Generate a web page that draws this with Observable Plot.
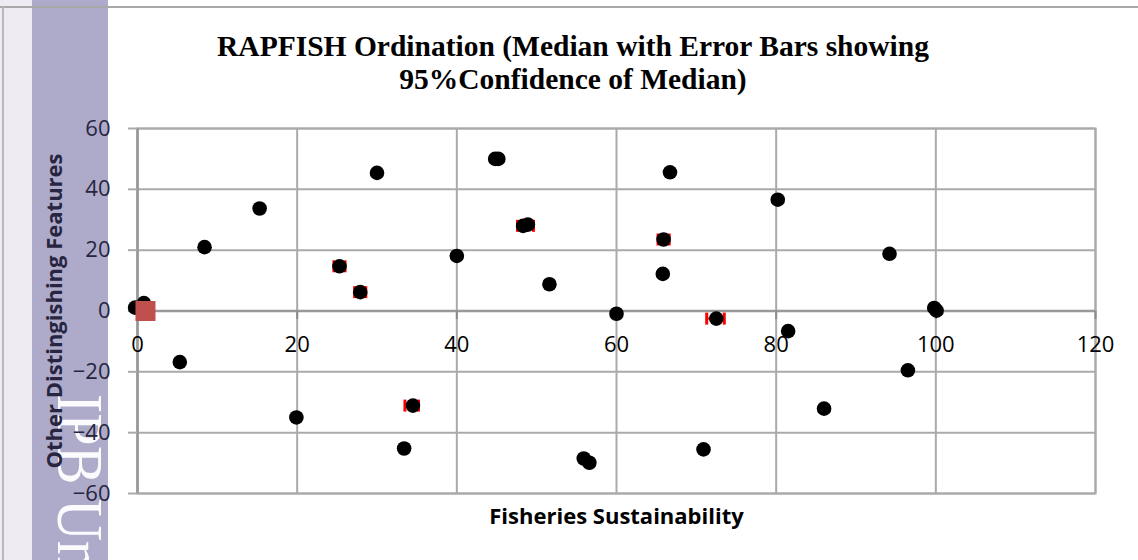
<!DOCTYPE html>
<html><head><meta charset="utf-8">
<script src="https://cdn.jsdelivr.net/npm/d3@7"></script>
<script src="https://cdn.jsdelivr.net/npm/@observablehq/plot@0.6"></script>
<style>
html,body{margin:0;padding:0;background:#fff;}
#wrap{position:relative;width:1138px;height:560px;overflow:hidden;background:#fff;}
#strip{position:absolute;left:0;top:0;width:32px;height:560px;background:#efebf3;}
#topline{position:absolute;left:0;top:6px;width:1138px;height:2px;background:#a9a9a9;}
#leftline{position:absolute;left:2px;top:7px;width:2px;height:553px;background:#b9b9bd;}
#title{position:absolute;left:0;top:0;width:1146px;text-align:center;font-family:"Liberation Serif","Times New Roman",serif;font-weight:bold;font-size:29.5px;line-height:33px;color:#000;padding-top:30px;}
#chart{position:absolute;left:0;top:100px;}
#band{position:absolute;left:32px;top:0;width:76px;height:560px;background:#adaaca;}
#wm{position:absolute;left:113px;top:394px;transform-origin:0 0;transform:rotate(90deg) scale(0.88,1);font-family:"Liberation Serif","Times New Roman",serif;font-size:66px;line-height:1;color:rgba(255,255,255,0.95);white-space:nowrap;}
</style></head>
<body>
<div id="wrap">
  <div id="strip"></div>
  <div id="band"></div>
  <div id="wm">IPB Un</div>
  <div id="title">RAPFISH Ordination (Median with Error Bars showing<br>95%Confidence of Median)</div>
  <div id="chart"></div>
  <div id="topline"></div>
  <div id="leftline"></div>
</div>
<script>
// Black points: Fisheries Sustainability (x) and Other Distinguishing Features (y)
const xValues = [-0.3, 0.8, 8.4, 15.3, 30.0, 25.3, 27.9, 40.0, 44.8, 45.2, 48.3, 48.9, 51.6,
  66.7, 80.2, 65.9, 65.8, 94.2, 99.8, 100.1, 60.0, 72.5, 81.5, 5.3, 19.9, 34.5, 33.4,
  55.9, 56.6, 70.9, 86.0, 96.5];
const yValues = [1.1, 2.6, 21.0, 33.7, 45.4, 14.7, 6.2, 18.1, 50.0, 50.0, 28.0, 28.4, 8.8,
  45.6, 36.6, 23.5, 12.2, 18.8, 1.0, 0.1, -0.9, -2.5, -6.6, -16.8, -35.0, -31.1, -45.2,
  -48.5, -49.9, -45.5, -32.1, -19.5];
// Error bars (95% confidence of median) along x
const errY = [14.7, 6.2, -31.1, 28.0, 23.5, -2.5];
const errLo = [24.6, 27.2, 33.5, 47.6, 65.2, 71.3];
const errHi = [26.0, 28.6, 35.2, 49.6, 66.6, 73.5];
// Reference anchor (red square)
const refX = [1];
const refY = [0];
const xTicks = [0, 20, 40, 60, 80, 100, 120];
const yTicks = [-60, -40, -20, 0, 20, 40, 60];
const titleX = "Fisheries Sustainability";
const titleY = "Other Distingishing Features";

const pts = xValues.map((x, i) => ({x, y: yValues[i]}));
const errs = errY.map((y, i) => ({y, lo: errLo[i], hi: errHi[i]}));
const refs = refX.map((x, i) => ({x, y: refY[i]}));

const capSym = {draw(ctx) { ctx.moveTo(0, -6); ctx.lineTo(0, 6); }};
const downTick = {draw(ctx) { ctx.moveTo(0, 0); ctx.lineTo(0, 8); }};
const gridColor = "#aaaaaa";
const navy = "#27253f";

const chart = Plot.plot({
  width: 1138,
  height: 460,
  marginTop: 28,
  marginBottom: 67,
  marginLeft: 137,
  marginRight: 43,
  style: {background: "transparent", overflow: "visible", fontFamily: "'Open Sans', sans-serif", color: "#000"},
  x: {domain: [0, 120], axis: null},
  y: {domain: [-60, 60]},
  marks: [
    Plot.gridX(xTicks, {stroke: gridColor, strokeOpacity: 1, strokeWidth: 2}),
    Plot.gridY(yTicks, {stroke: gridColor, strokeOpacity: 1, strokeWidth: 2}),
    Plot.frame({stroke: gridColor, strokeWidth: 2}),
    Plot.ruleX([0], {stroke: "#999999", strokeWidth: 2.5}),
    Plot.ruleY([0], {stroke: "#999999", strokeWidth: 2.5}),
    Plot.dot(xTicks, {x: d => d, y: () => 0, symbol: downTick, stroke: "#8c8c8c", strokeWidth: 2, fill: "none"}),
    Plot.axisY(yTicks, {tickSize: 9, tickPadding: 18, fontSize: 22, stroke: gridColor, strokeWidth: 2, fill: navy, label: null}),
    Plot.text(xTicks, {x: d => d, y: () => 0, text: d => String(d), dy: 34, fontSize: 22, fill: "#000"}),
    Plot.ruleY(errs, {y: "y", x1: "lo", x2: "hi", stroke: "#ff0000", strokeWidth: 2}),
    Plot.dot(errs, {x: "lo", y: "y", symbol: capSym, stroke: "#ff0000", strokeWidth: 3, fill: "none"}),
    Plot.dot(errs, {x: "hi", y: "y", symbol: capSym, stroke: "#ff0000", strokeWidth: 3, fill: "none"}),
    Plot.dot(pts, {x: "x", y: "y", r: 7.3, fill: "#000", stroke: "none"}),
    Plot.dot(refs, {x: "x", y: "y", symbol: "square", r: 11.3, fill: "#c0504d", stroke: "none"}),
    Plot.text([titleX], {text: d => d, frameAnchor: "bottom", dy: 30, fontSize: 22, fontWeight: "bold", fill: "#000"}),
    Plot.text([titleY], {text: d => d, frameAnchor: "left", textAnchor: "middle", rotate: -90, dx: -83, fontSize: 22, fontWeight: "bold", fill: navy})
  ]
});
document.getElementById("chart").appendChild(chart);
</script>
</body></html>
